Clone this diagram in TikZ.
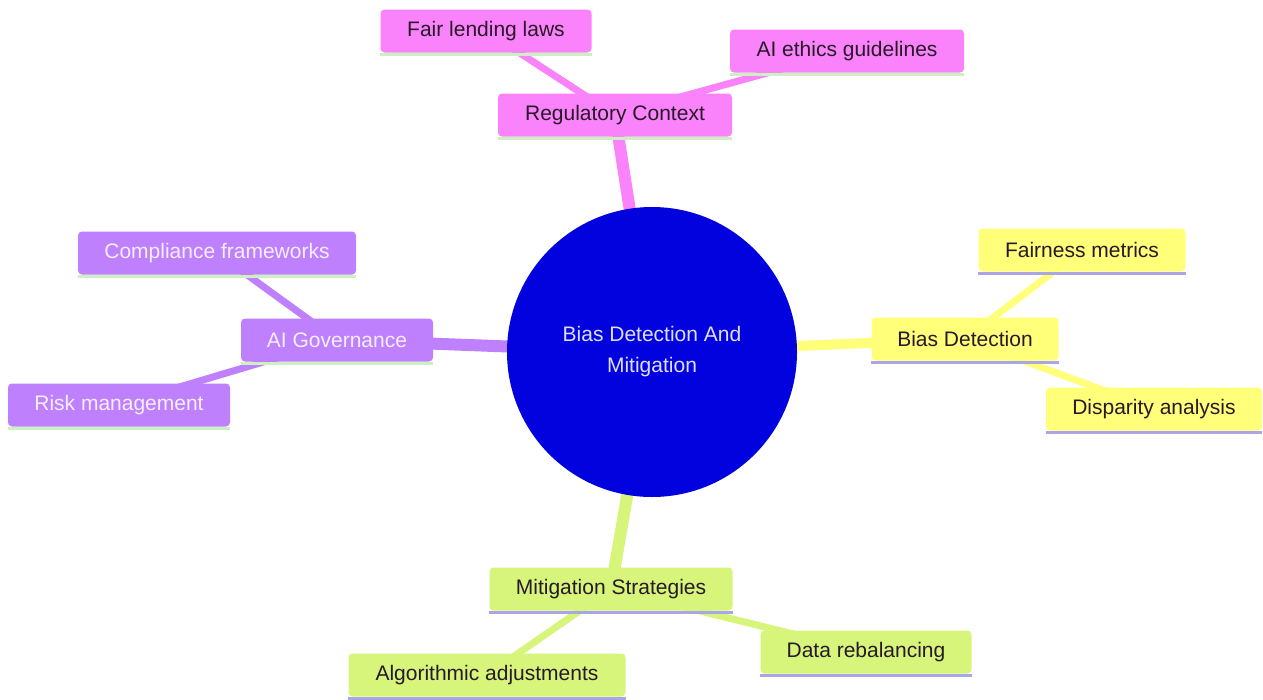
\documentclass[tikz,border=0pt]{standalone}
\usepackage{fontspec}
\setmainfont{Liberation Sans}
\usetikzlibrary{backgrounds}
\definecolor{pinkc}{RGB}{250,130,250}
\definecolor{purpc}{RGB}{190,128,252}
\definecolor{yelc}{RGB}{255,255,122}
\definecolor{grnc}{RGB}{214,245,122}
\definecolor{rootc}{RGB}{2,2,222}
\definecolor{ulgreen}{RGB}{205,240,195}
\definecolor{ulblue}{RGB}{170,165,228}
\definecolor{darktxt}{RGB}{40,25,40}
\definecolor{lighttxt}{RGB}{245,238,255}
\definecolor{roottxt}{RGB}{222,222,255}
\begin{document}
\begin{tikzpicture}[x=1pt,y=-1pt,
  box/.style={rounded corners=4pt, inner xsep=0pt, inner ysep=0pt, minimum height=43pt,
    font=\fontsize{21}{25}\selectfont},
  pinkbox/.style={box, fill=pinkc, text=darktxt},
  purpbox/.style={box, fill=purpc, text=lighttxt},
  yelbox/.style={box, fill=yelc, text=darktxt},
  grnbox/.style={box, fill=grnc, text=darktxt},
  mainedge/.style={line width=12pt},
  subedge/.style={line width=7pt},
  uline/.style={line width=3pt}]
\useasboundingbox (0,0) rectangle (1263,699);

\node[circle, fill=rootc, minimum size=290pt, inner sep=0pt, text=roottxt, align=center,
  font=\fontsize{21}{31}\selectfont] (root) at (652,352) {Bias Detection And\\Mitigation};

\node[pinkbox, minimum width=234pt] (reg) at (615,115) {Regulatory Context};
\node[pinkbox, minimum width=211pt] (fair) at (486,31) {Fair lending laws};
\node[pinkbox, minimum width=234pt] (ethics) at (847,51) {AI ethics guidelines};

\node[purpbox, minimum width=192pt] (gov) at (337,340) {AI Governance};
\node[purpbox, minimum width=278pt] (comp) at (217,253) {Compliance frameworks};
\node[purpbox, minimum width=222pt] (risk) at (119,405) {Risk management};

\node[yelbox, minimum width=187pt] (bias) at (965,339) {Bias Detection};
\node[yelbox, minimum width=207pt] (fairm) at (1082,250) {Fairness metrics};
\node[yelbox, minimum width=216pt] (disp) at (1154,409) {Disparity analysis};

\node[grnbox, minimum width=243pt] (mit) at (611,589) {Mitigation Strategies};
\node[grnbox, minimum width=277pt] (algo) at (487,675) {Algorithmic adjustments};
\node[grnbox, minimum width=211pt] (data) at (866,652) {Data rebalancing};

\foreach \n/\c in {reg/ulgreen, fair/ulgreen, ethics/ulgreen, gov/ulgreen, comp/ulgreen, risk/ulgreen,
  bias/ulblue, fairm/ulblue, disp/ulblue, mit/ulblue, algo/ulblue, data/ulblue}
  \draw[uline, \c] ([yshift=-1.5pt]\n.south west) -- ([yshift=-1.5pt]\n.south east);

\begin{scope}[on background layer]
\fill[white] (0,0) rectangle (1263,699);
\draw[mainedge, pinkc] (root.center) -- (reg.center);
\draw[subedge, pinkc] (reg.center) -- (fair.center);
\draw[subedge, pinkc] (reg.center) -- (ethics.center);
\draw[mainedge, purpc] (root.center) -- (gov.center);
\draw[subedge, purpc] (gov.center) -- (comp.center);
\draw[subedge, purpc] (gov.center) -- (risk.center);
\draw[mainedge, yelc, line width=10pt] (root.center) -- (bias.center);
\draw[subedge, yelc] (bias.center) -- (fairm.center);
\draw[subedge, yelc] (bias.center) -- (disp.center);
\draw[mainedge, grnc] (root.center) -- (mit.center);
\draw[subedge, grnc] (mit.center) -- (algo.center);
\draw[subedge, grnc] (mit.center) -- (data.center);
\end{scope}
\end{tikzpicture}
\end{document}
